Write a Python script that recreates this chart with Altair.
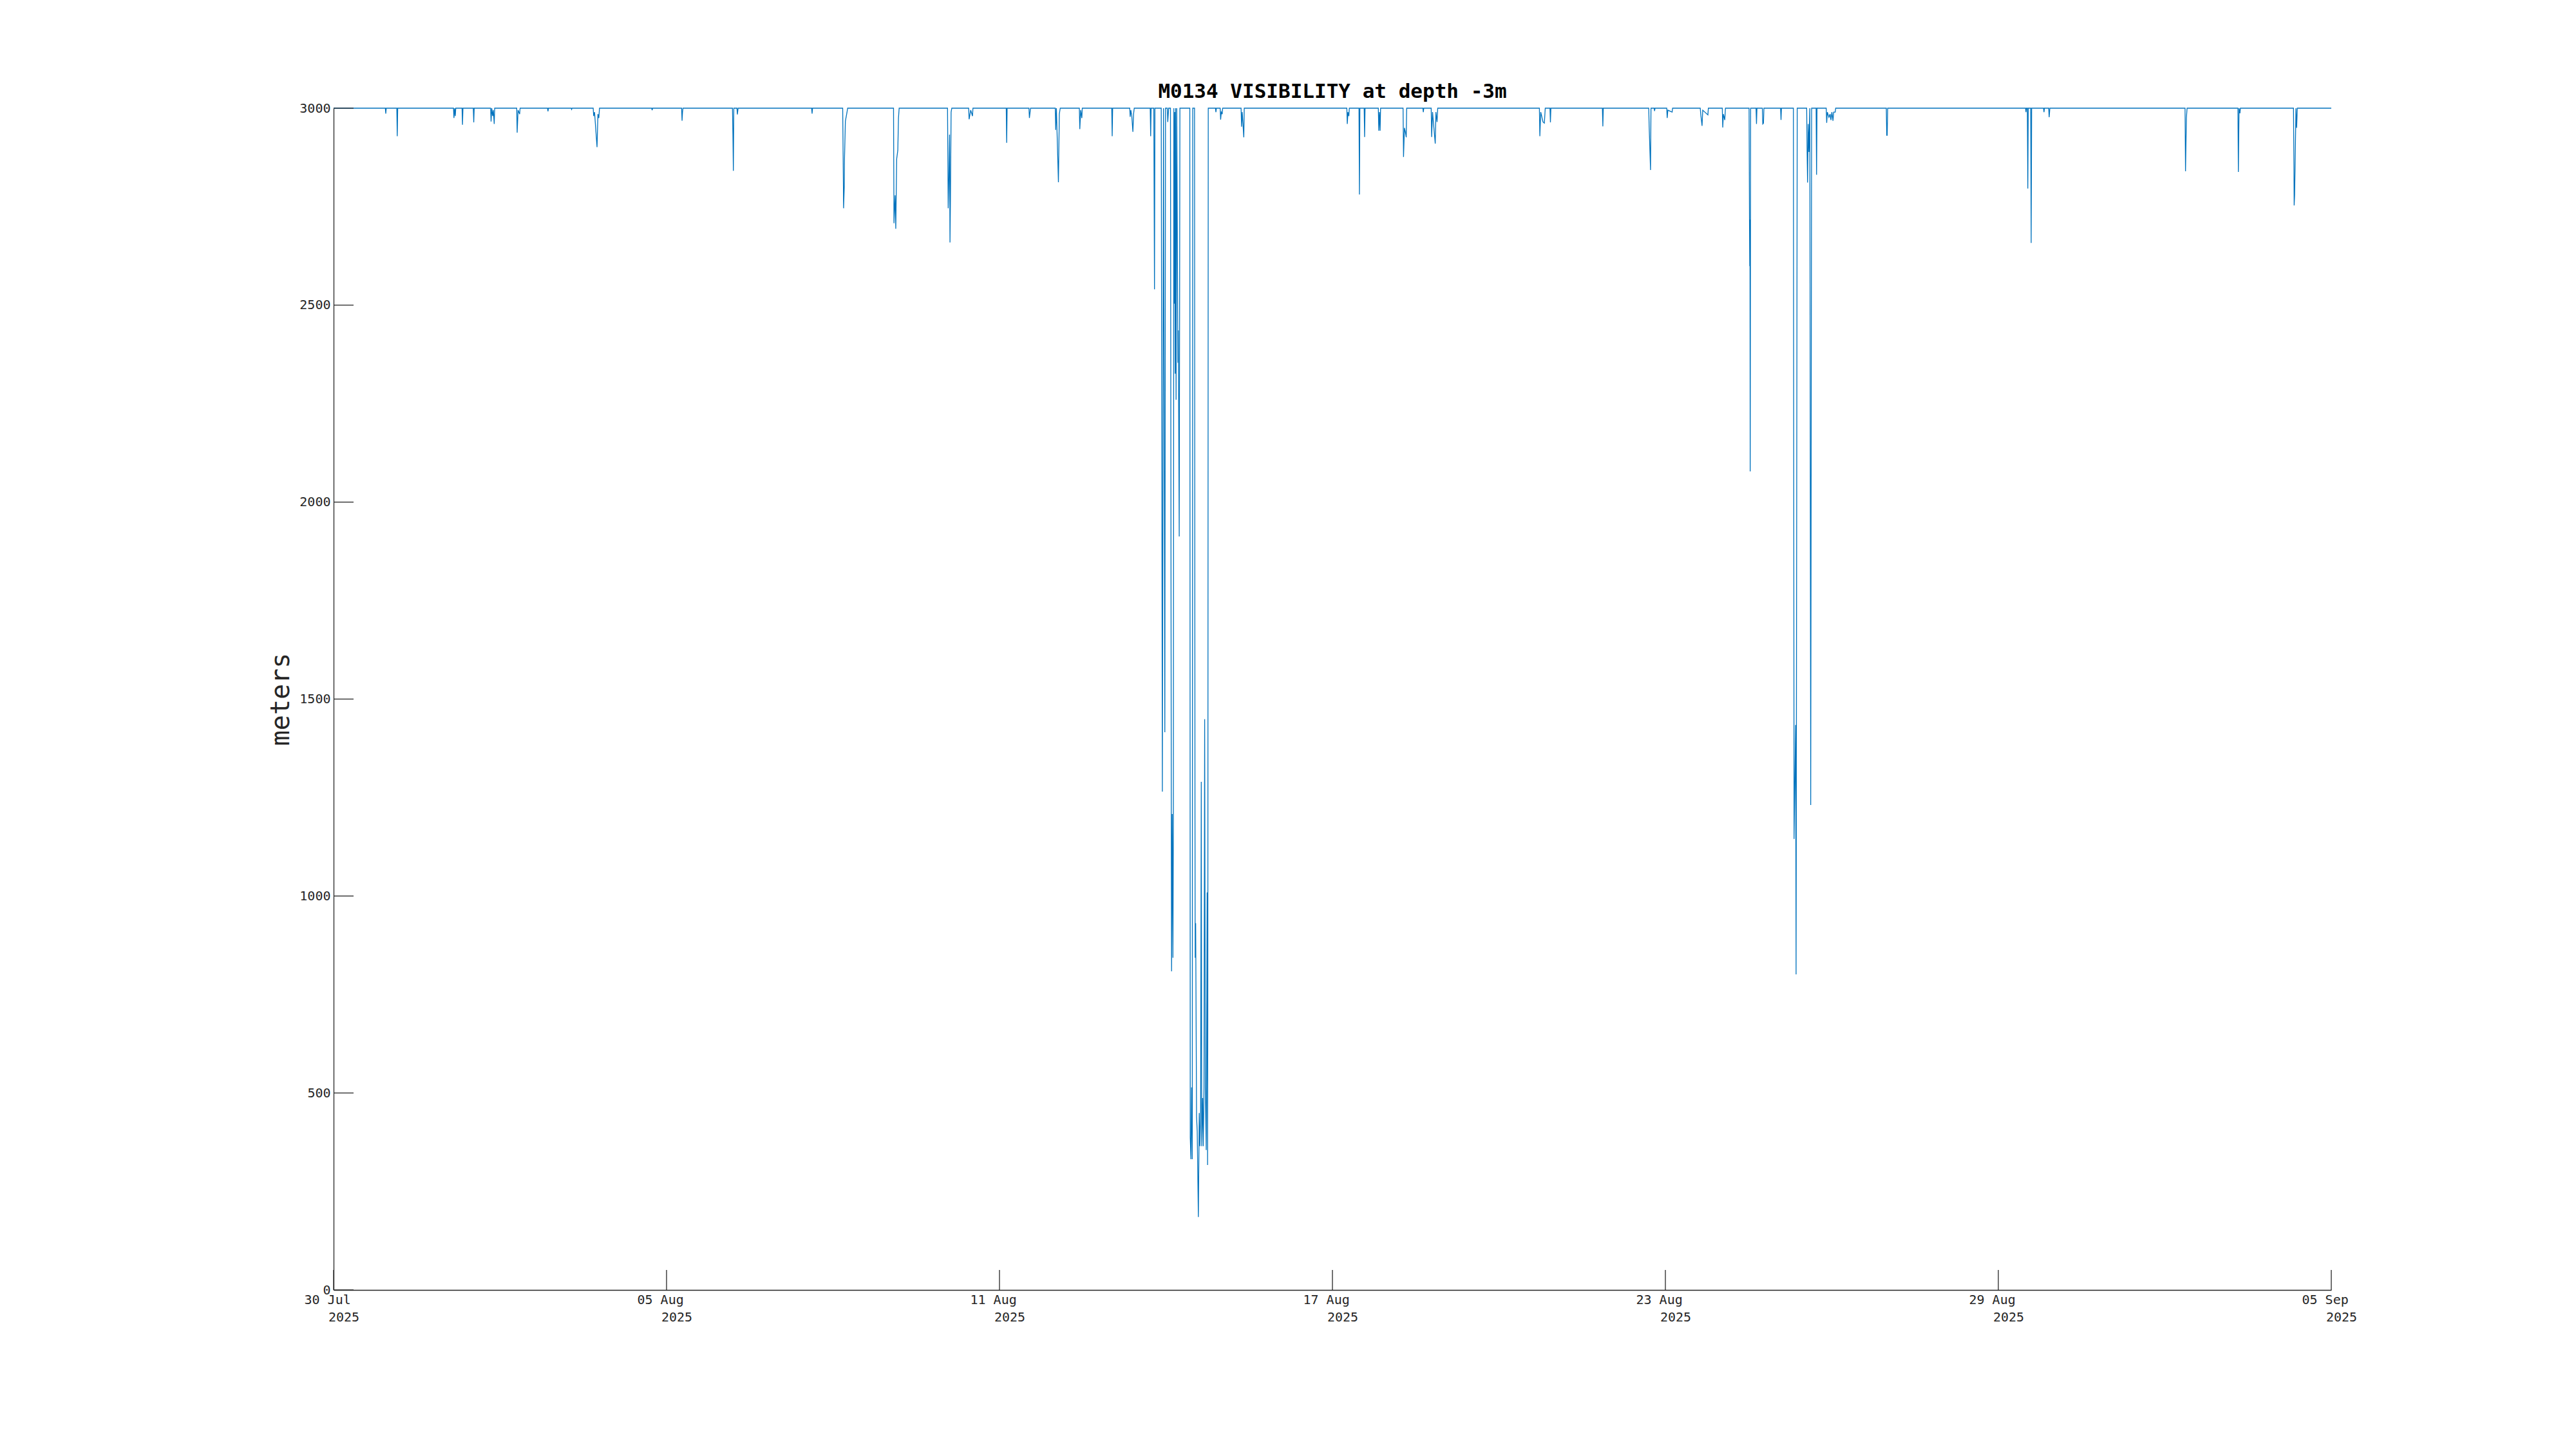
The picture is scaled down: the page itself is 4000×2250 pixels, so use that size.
import altair as alt
import pandas as pd

# hours since 2025-07-30 00:00 and visibility (m)
hours = [
    0, 23.0, 23.2, 23.4, 28.1, 28.3, 28.5,
    53.3, 53.5, 53.8, 54.1, 54.3, 57.1, 57.3, 57.5, 62.1, 62.3, 62.5,
    69.8, 70.0, 70.3, 70.7, 71.0, 71.4, 71.6,
    81.4, 81.6, 82.0, 82.7, 82.9, 95.1, 95.3, 95.5, 105.6, 105.8, 106.0,
    115.4, 115.6, 116.0, 117.1, 117.5, 117.9, 118.2,
    141.4, 141.6, 141.8, 154.7, 154.9, 155.1, 155.3,
    177.3, 177.5, 177.7, 177.9, 179.3, 179.5, 179.8,
    212.5, 212.7, 212.9,
    226.3, 226.5, 226.7, 227.0, 227.1, 227.5, 228.2, 228.5,
    248.9, 249.1, 249.6, 249.9, 250.3, 250.8, 251.1, 251.4,
    272.9, 273.2, 273.5, 273.8, 274.0, 274.2, 274.5, 274.8,
    282.3, 282.5, 283.2, 284.0, 284.2,
    299.0, 299.2, 299.4, 309.1, 309.3, 309.6, 309.8,
    320.8, 321.0, 321.3, 322.2, 322.6, 323.0,
    331.5, 331.7, 332.1, 332.6, 332.8, 345.9, 346.1, 346.3,
    353.9, 354.1, 354.4, 354.8, 355.3, 355.6, 355.9,
    363.0, 363.2, 363.4, 364.6, 364.9, 365.1,
    367.9, 368.4, 368.9, 369.5, 369.8, 370.6, 370.8, 371.2,
    372.0, 372.4, 372.5, 372.8, 373.1, 373.3, 373.5, 373.7, 373.9, 374.1,
    374.3, 374.5, 374.8, 375.3, 375.5, 375.9, 376.2,
    380.6, 380.8, 381.1, 381.4, 381.7, 381.9,
    382.7, 382.9, 383.0, 383.2, 383.6, 383.9, 384.4, 384.8, 385.1, 385.4,
    385.7, 385.9, 386.3, 386.6, 386.9, 387.2, 387.5, 387.9, 388.1, 388.3,
    388.5, 388.6, 388.8,
    392.0, 392.2, 392.4, 394.1, 394.3, 394.6, 395.0, 395.2,
    403.4, 403.6, 403.9, 404.6, 404.8,
    450.4, 450.6, 450.9, 451.3, 451.5, 455.8, 456.0, 456.2, 458.1, 458.3, 458.5,
    464.4, 464.6, 464.9, 465.2, 465.4,
    475.4, 475.6, 476.0, 476.4, 476.8, 477.0, 484.2, 484.4, 484.6,
    487.9, 488.1, 488.5, 489.7, 490.0, 490.5, 490.8,
    536.0, 536.2, 536.6, 537.6, 538.2, 538.6, 540.7, 540.9, 541.1,
    564.0, 564.2, 564.4,
    584.6, 584.8, 585.4, 585.6, 587.0, 587.2, 587.4,
    592.6, 592.8, 593.1, 595.0, 595.2,
    607.5, 607.7, 608.3, 608.6, 610.9, 611.1,
    617.3, 617.5, 617.8, 618.4, 618.7,
    629.2, 629.4, 629.5, 629.6, 629.7, 629.9,
    632.3, 632.5, 632.7, 635.1, 635.3, 635.6, 635.8, 643.2, 643.4, 643.6,
    648.9, 649.2, 649.9, 650.1, 650.6,
    654.8, 655.0, 655.2, 655.5, 655.8, 656.2, 656.6, 657.0, 659.0, 659.2, 659.4,
    663.5, 663.7, 664.0, 664.7, 665.2, 665.6, 666.0, 666.5, 666.8, 667.5, 667.7,
    690.2, 690.4, 690.6, 690.8,
    752.1, 752.3, 752.5, 752.9, 753.1, 753.3, 754.4, 754.6, 754.8,
    760.1, 760.3, 760.5, 762.4, 762.6, 762.9,
    823.0, 823.2, 823.6, 823.9, 846.5, 846.7, 847.0, 847.4, 847.6,
    871.2, 871.4, 871.5, 871.7, 871.9, 872.3, 872.6, 872.9,
    888.0,
]
visibility = [
    3000, 3000, 2986, 3000, 3000, 2929, 3000,
    3000, 2975, 3000, 2980, 3000, 3000, 2958, 3000, 3000, 2964, 3000,
    3000, 2966, 3000, 2980, 2995, 2960, 3000,
    3000, 2938, 2995, 2985, 3000, 3000, 2992, 3000, 3000, 2997, 3000,
    3000, 2980, 2990, 2901, 2985, 2975, 3000,
    3000, 2995, 3000, 3000, 2968, 2990, 3000,
    3000, 2935, 2841, 3000, 3000, 2984, 3000,
    3000, 2986, 3000,
    3000, 2880, 2746, 2800, 2871, 2967, 2989, 3000,
    3000, 2708, 2779, 2694, 2871, 2893, 2975, 3000,
    3000, 2746, 2822, 2933, 2659, 2774, 2990, 3000,
    3000, 2972, 2995, 2980, 3000,
    3000, 2912, 3000, 3000, 2975, 2990, 3000,
    3000, 2945, 3000, 2812, 2985, 3000,
    3000, 2947, 2995, 2975, 3000, 3000, 2929, 3000,
    3000, 2978, 2995, 2980, 2940, 2985, 3000,
    3000, 2929, 3000, 3000, 2540, 3000,
    3000, 1265, 3000, 1416, 3000, 3000, 2965, 3000,
    3000, 1077, 809, 1208, 843, 1200, 3000, 2504, 2990, 2326,
    3000, 2260, 3000, 2354, 2436, 1913, 3000,
    3000, 387, 332, 514, 332, 3000,
    3000, 1208, 843, 931, 440, 402, 185, 449, 365, 440,
    1290, 365, 487, 365, 514, 1449, 514, 355, 683, 1009,
    317, 683, 3000,
    3000, 2990, 3000, 3000, 2971, 2990, 2985, 3000,
    3000, 2953, 2990, 2926, 3000,
    3000, 2960, 2990, 2980, 3000, 3000, 2781, 3000, 3000, 2927, 3000,
    3000, 2943, 2990, 2943, 3000,
    3000, 2876, 2950, 2940, 2926, 3000, 3000, 2990, 3000,
    3000, 2927, 2990, 2910, 2990, 2965, 3000,
    3000, 2929, 2990, 2965, 2962, 3000, 3000, 2964, 3000,
    3000, 2954, 3000,
    3000, 2952, 2843, 3000, 3000, 2993, 3000,
    3000, 2975, 2995, 2990, 3000,
    3000, 2986, 2955, 2995, 2983, 3000,
    3000, 2951, 2985, 2970, 3000,
    3000, 2700, 2599, 2717, 2078, 3000,
    3000, 2960, 3000, 3000, 2960, 2962, 3000, 3000, 2970, 3000,
    3000, 1145, 1434, 801, 3000,
    3000, 2889, 2811, 2960, 2889, 3000, 1231, 3000, 3000, 2831, 3000,
    3000, 2963, 2990, 2977, 2985, 2970, 2990, 2968, 2990, 2990, 3000,
    3000, 2931, 2931, 3000,
    3000, 2990, 3000, 3000, 2796, 3000, 3000, 2658, 3000,
    3000, 2990, 3000, 3000, 2977, 3000,
    3000, 2840, 2975, 3000, 3000, 2838, 3000, 2987, 3000,
    3000, 2855, 2753, 2779, 2850, 3000, 2950, 3000,
    3000,
]

# x ticks are evenly spaced over the time range (labelled with their dates)
x_tick_times = ["2025-07-30 00:00", "2025-08-05 04:00", "2025-08-11 08:00",
                "2025-08-17 12:00", "2025-08-23 16:00", "2025-08-29 20:00",
                "2025-09-05 00:00"]
x_tick_years = ["2025", "2025", "2025", "2025", "2025", "2025", "2025"]
y_tick_values = [0, 500, 1000, 1500, 2000, 2500, 3000]

start = pd.Timestamp("2025-07-30 00:00")
df = pd.DataFrame({
    "time": start + pd.to_timedelta(hours, unit="h"),
    "visibility": visibility,
})
xt_df = pd.DataFrame({"time": pd.to_datetime(x_tick_times), "year": x_tick_years})
yt_df = pd.DataFrame({"visibility": y_tick_values})

W, H = 3102, 1835
TICK = 31
AX = "#262626"
FONT = "DejaVu Sans Mono"

x_dt = []
for s in x_tick_times:
    t = pd.Timestamp(s)
    x_dt.append(alt.DateTime(year=t.year, month=t.month, date=t.day, hours=t.hour))
x_scale = alt.Scale(domain=[x_dt[0], x_dt[-1]], nice=False)
y_scale = alt.Scale(domain=[0, 3000], nice=False, zero=True)

x_axis = alt.Axis(values=x_dt, ticks=False, grid=False, format="%d %b",
                  labelAlign="left", labelOffset=-46, labelBaseline="top",
                  labelPadding=5,
                  labelFont=FONT, labelFontSize=20, labelColor=AX,
                  domainColor=AX, domainWidth=1.3,
                  labelFlush=False, labelOverlap=False, labelBound=False)
y_axis = alt.Axis(values=y_tick_values, ticks=False, grid=False, format="d",
                  labelPadding=5, labelFlush=False, labelOverlap=False,
                  labelBaseline="middle",
                  labelFont=FONT, labelFontSize=20, labelColor=AX,
                  domainColor=AX, domainWidth=1.3,
                  titleX=-82, titleY=H / 2, titleAngle=270,
                  titleAlign="center", titleBaseline="middle",
                  titleFontSize=40, titleFontWeight="normal",
                  titleFont=FONT, titleColor=AX)

X = alt.X("time:T", scale=x_scale, title=None, axis=x_axis)
Y = alt.Y("visibility:Q", scale=y_scale, title="meters", axis=y_axis)

line = alt.Chart(df).mark_line(color="#0072BD", strokeWidth=1.3).encode(x=X, y=Y)

xticks = alt.Chart(xt_df).mark_rule(color=AX, strokeWidth=1.3).encode(
    x=X, y=alt.value(H - TICK), y2=alt.value(H),
)
years = alt.Chart(xt_df).mark_text(
    font=FONT, fontSize=20, color=AX, align="left", baseline="middle", dx=-8,
).encode(x=X, y=alt.value(H + 43), text="year:N")
yticks = alt.Chart(yt_df).mark_rule(color=AX, strokeWidth=1.3).encode(
    y=Y, x=alt.value(0), x2=alt.value(TICK),
)

chart = alt.layer(line, xticks, yticks, years).properties(
    width=W, height=H,
    background="white",
    title=alt.TitleParams("M0134 VISIBILITY at depth -3m", font=FONT, fontSize=31,
                          fontWeight="bold", color="#000000", anchor="middle",
                          offset=16, baseline="alphabetic", dy=41),
    autosize=alt.AutoSizeParams(type="none"),
    padding={"left": 510, "top": 160, "right": 372, "bottom": 239},
).configure_view(stroke=None).configure_axis(
    domainColor=AX, domainWidth=1.3, labelColor=AX, labelFont=FONT, labelFontSize=20,
)

chart.save("out.html", embed_options={"renderer": "svg", "actions": False})
